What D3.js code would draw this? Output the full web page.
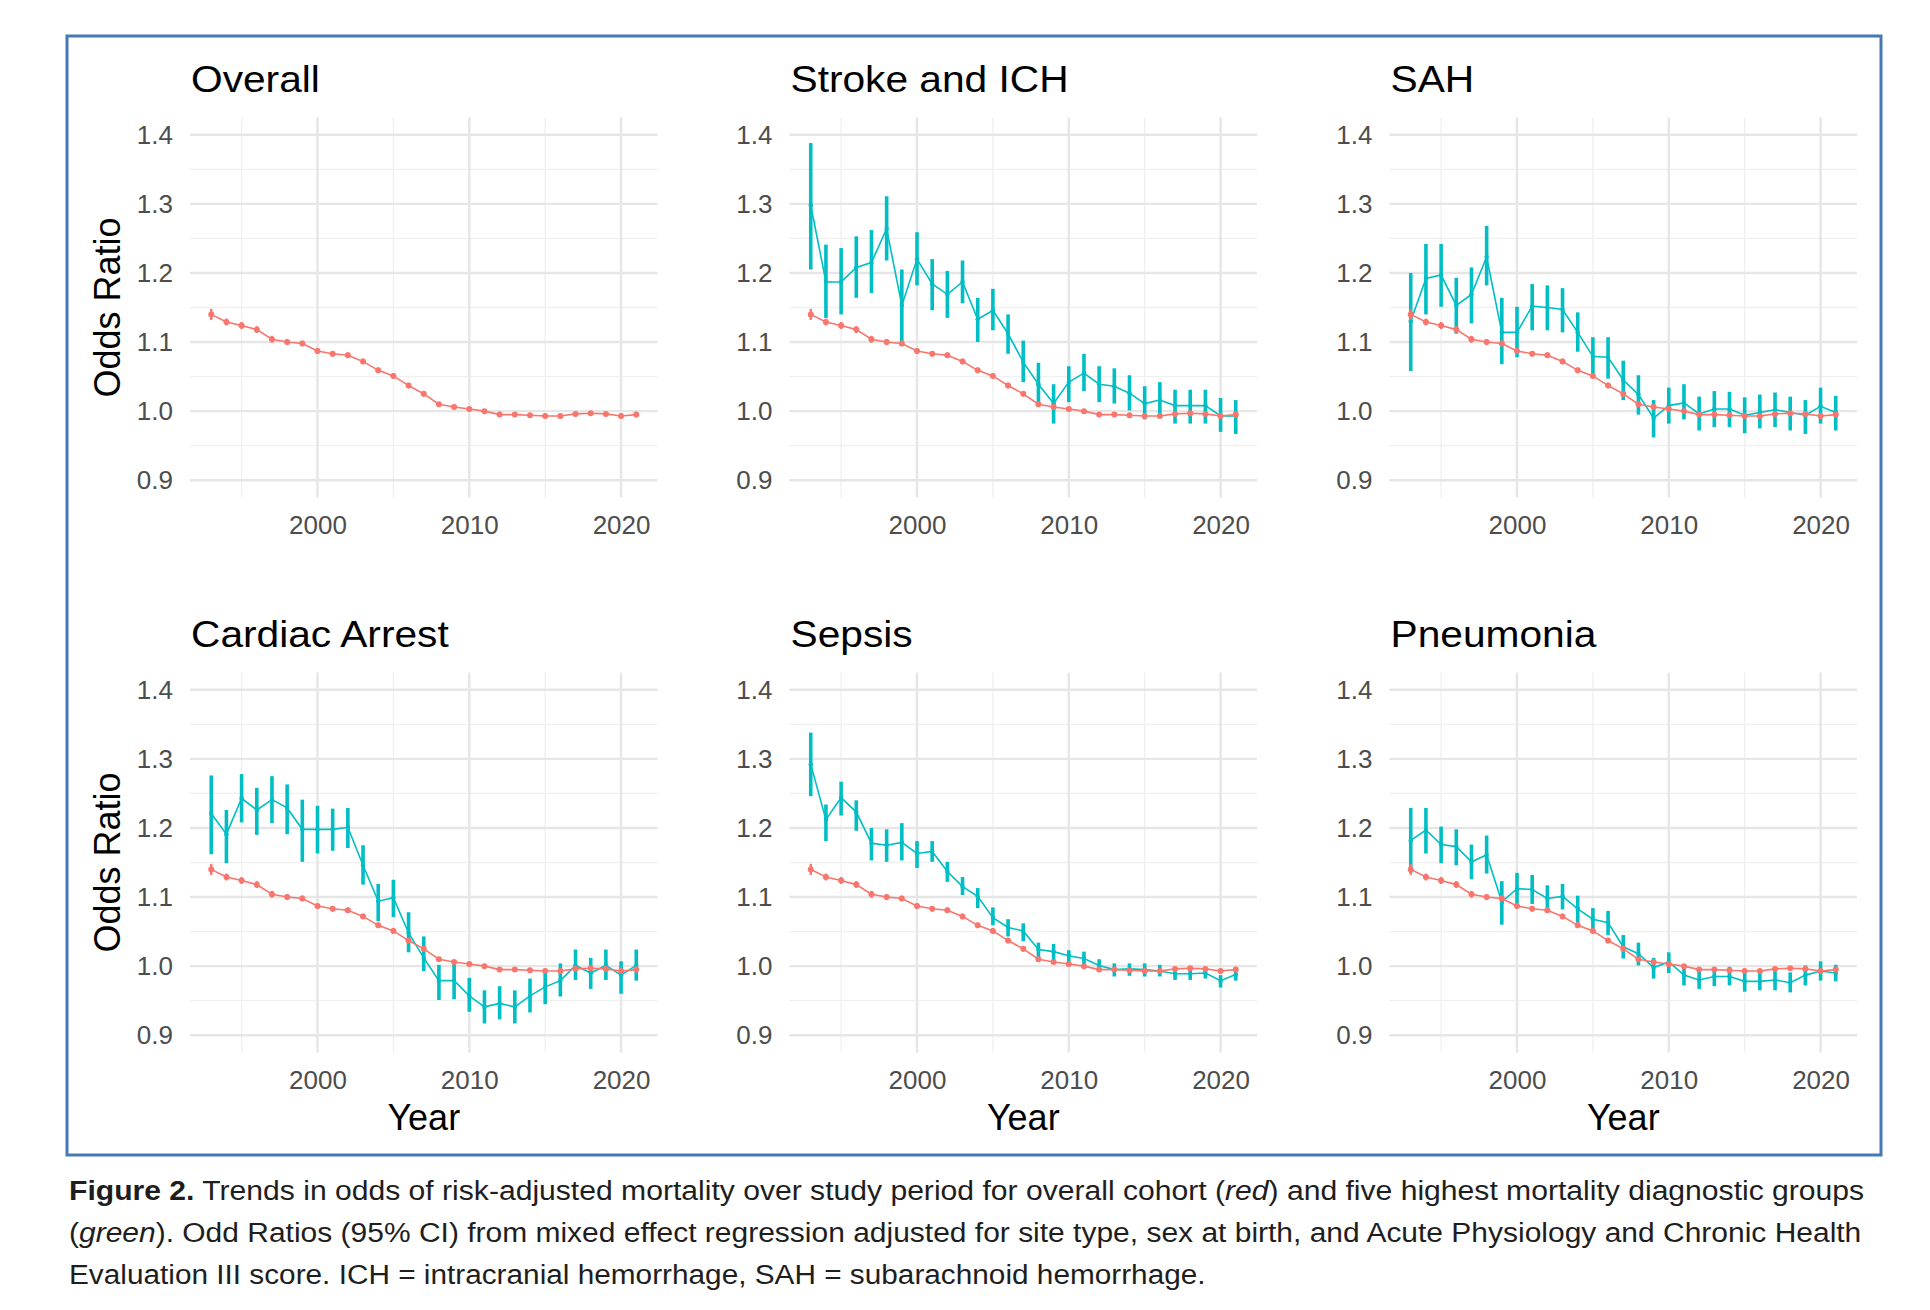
<!DOCTYPE html>
<html>
<head>
<meta charset="utf-8">
<script src="https://cdn.jsdelivr.net/npm/d3@7"></script>
<style>
  body { margin: 0; background: #fff; }
  text { font-family: "Liberation Sans", Arial, Helvetica, sans-serif; }
</style>
</head>
<body>
<script>
// years on the x axis
const years = [1993, 1994, 1995, 1996, 1997, 1998, 1999, 2000, 2001, 2002, 2003, 2004, 2005, 2006, 2007,
               2008, 2009, 2010, 2011, 2012, 2013, 2014, 2015, 2016, 2017, 2018, 2019, 2020, 2021];

// overall cohort (red) - estimate and CI half width
const overallEst = [1.140, 1.129, 1.124, 1.118, 1.104, 1.100, 1.098, 1.087, 1.083, 1.081, 1.072, 1.059, 1.051, 1.037, 1.025,
                    1.010, 1.006, 1.003, 1.000, 0.995, 0.995, 0.994, 0.993, 0.993, 0.996, 0.997, 0.996, 0.993, 0.995];
const overallErr = [0.008, 0.005, 0.005, 0.005, 0.005, 0.004, 0.004, 0.004, 0.004, 0.004, 0.004, 0.004, 0.004, 0.004, 0.004,
                    0.003, 0.003, 0.003, 0.003, 0.003, 0.003, 0.003, 0.003, 0.003, 0.003, 0.003, 0.003, 0.003, 0.004];

// Stroke and ICH
const strokeEst = [1.298, 1.187, 1.187, 1.208, 1.215, 1.264, 1.153, 1.220, 1.184, 1.169, 1.187, 1.133, 1.146, 1.112, 1.071,
                   1.039, 1.011, 1.042, 1.055, 1.039, 1.036, 1.026, 1.011, 1.016, 1.008, 1.008, 1.008, 0.993, 0.993];
const strokeHi  = [1.388, 1.241, 1.236, 1.253, 1.262, 1.311, 1.205, 1.259, 1.220, 1.203, 1.218, 1.164, 1.177, 1.140, 1.102,
                   1.070, 1.039, 1.065, 1.083, 1.065, 1.062, 1.052, 1.036, 1.042, 1.031, 1.031, 1.031, 1.019, 1.016];
const strokeLo  = [1.205, 1.135, 1.140, 1.164, 1.171, 1.218, 1.099, 1.182, 1.146, 1.135, 1.156, 1.100, 1.117, 1.083, 1.042,
                   1.011, 0.982, 1.013, 1.029, 1.013, 1.011, 1.001, 0.988, 0.990, 0.982, 0.982, 0.982, 0.970, 0.967];

// SAH
const sahEst = [1.130, 1.192, 1.197, 1.153, 1.169, 1.223, 1.114, 1.114, 1.152, 1.150, 1.147, 1.114, 1.079, 1.078, 1.045,
                1.024, 0.990, 1.008, 1.012, 0.996, 1.003, 1.003, 0.994, 0.998, 1.002, 0.998, 0.994, 1.007, 0.998];
const sahHi  = [1.200, 1.242, 1.242, 1.193, 1.208, 1.268, 1.164, 1.151, 1.184, 1.182, 1.178, 1.143, 1.107, 1.107, 1.073,
                1.052, 1.016, 1.034, 1.039, 1.021, 1.029, 1.028, 1.020, 1.024, 1.027, 1.021, 1.016, 1.034, 1.022];
const sahLo  = [1.058, 1.140, 1.151, 1.112, 1.127, 1.182, 1.068, 1.078, 1.117, 1.117, 1.114, 1.086, 1.052, 1.047, 1.016,
                0.995, 0.962, 0.982, 0.988, 0.972, 0.977, 0.977, 0.968, 0.975, 0.977, 0.972, 0.967, 0.982, 0.972];

// Cardiac Arrest
const cardiacEst = [1.221, 1.191, 1.243, 1.226, 1.241, 1.229, 1.198, 1.198, 1.198, 1.201, 1.146, 1.094, 1.099, 1.048, 1.012,
                    0.979, 0.979, 0.957, 0.941, 0.946, 0.941, 0.957, 0.970, 0.979, 1.001, 0.990, 1.001, 0.987, 1.001];
const cardiacHi  = [1.276, 1.226, 1.278, 1.258, 1.275, 1.263, 1.241, 1.232, 1.228, 1.229, 1.175, 1.119, 1.125, 1.078, 1.043,
                    1.002, 1.004, 0.983, 0.965, 0.971, 0.965, 0.982, 0.993, 1.004, 1.024, 1.012, 1.024, 1.007, 1.024];
const cardiacLo  = [1.162, 1.149, 1.208, 1.190, 1.207, 1.191, 1.151, 1.163, 1.167, 1.171, 1.118, 1.065, 1.071, 1.020, 0.993,
                    0.951, 0.952, 0.934, 0.917, 0.923, 0.917, 0.933, 0.945, 0.956, 0.980, 0.967, 0.980, 0.960, 0.979];

// Sepsis
const sepsisEst = [1.292, 1.212, 1.244, 1.223, 1.178, 1.175, 1.179, 1.163, 1.166, 1.137, 1.115, 1.101, 1.070, 1.056, 1.051,
                   1.024, 1.021, 1.015, 1.011, 1.001, 0.995, 0.996, 0.995, 0.993, 0.989, 0.989, 0.990, 0.979, 0.988];
const sepsisHi  = [1.338, 1.234, 1.267, 1.240, 1.200, 1.198, 1.207, 1.181, 1.181, 1.151, 1.129, 1.113, 1.085, 1.068, 1.062,
                   1.034, 1.032, 1.023, 1.021, 1.010, 1.004, 1.004, 1.004, 1.002, 0.999, 0.999, 0.999, 0.987, 0.996];
const sepsisLo  = [1.246, 1.181, 1.218, 1.196, 1.153, 1.151, 1.153, 1.142, 1.151, 1.122, 1.103, 1.084, 1.059, 1.043, 1.036,
                   1.012, 1.009, 1.004, 1.001, 0.993, 0.985, 0.986, 0.985, 0.985, 0.980, 0.980, 0.982, 0.969, 0.979];

// Pneumonia
const pneuEst = [1.182, 1.197, 1.176, 1.173, 1.151, 1.161, 1.093, 1.112, 1.111, 1.098, 1.101, 1.083, 1.068, 1.063, 1.028,
                 1.018, 0.998, 1.006, 0.987, 0.980, 0.985, 0.985, 0.978, 0.978, 0.980, 0.976, 0.987, 0.993, 0.990];
const pneuHi  = [1.229, 1.229, 1.202, 1.198, 1.176, 1.189, 1.123, 1.135, 1.132, 1.117, 1.119, 1.102, 1.084, 1.080, 1.045,
                 1.034, 1.012, 1.020, 1.001, 0.995, 0.997, 0.999, 0.993, 0.993, 0.996, 0.991, 1.001, 1.007, 1.002];
const pneuLo  = [1.135, 1.163, 1.149, 1.146, 1.126, 1.134, 1.060, 1.087, 1.090, 1.079, 1.082, 1.063, 1.050, 1.045, 1.011,
                 1.001, 0.982, 0.990, 0.972, 0.967, 0.971, 0.972, 0.963, 0.965, 0.965, 0.962, 0.972, 0.979, 0.978];

const yTicks = [0.9, 1.0, 1.1, 1.2, 1.3, 1.4];
const xTicks = [2000, 2010, 2020];

const panels = [
  { title: "Overall",        est: null,       hi: null,      lo: null },
  { title: "Stroke and ICH", est: strokeEst,  hi: strokeHi,  lo: strokeLo },
  { title: "SAH",            est: sahEst,     hi: sahHi,     lo: sahLo },
  { title: "Cardiac Arrest", est: cardiacEst, hi: cardiacHi, lo: cardiacLo },
  { title: "Sepsis",         est: sepsisEst,  hi: sepsisHi,  lo: sepsisLo },
  { title: "Pneumonia",      est: pneuEst,    hi: pneuHi,    lo: pneuLo }
];

const RED = "#F8766D", GREEN = "#00BFC4";
const W = 467.5, H = 380;
const lefts = [190, 789.5, 1389.5];
const tops = [117.5, 672.5];

const svg = d3.select("body").append("svg")
    .attr("width", 1930)
    .attr("height", 1310);

svg.append("rect")
    .attr("x", 67).attr("y", 36)
    .attr("width", 1814).attr("height", 1119)
    .attr("fill", "none")
    .attr("stroke", "#4479B3")
    .attr("stroke-width", 3);

const overall = years.map((yr, i) => ({ year: yr, v: overallEst[i], lo: overallEst[i] - overallErr[i], hi: overallEst[i] + overallErr[i] }));

panels.forEach((p, k) => {
    const col = k % 3, row = Math.floor(k / 3);
    const left = lefts[col], top = tops[row];

    const x = d3.scaleLinear().domain([1991.6, 2022.4]).range([left, left + W]);
    const y = d3.scaleLinear().domain([0.875, 1.425]).range([top + H, top]);

    const g = svg.append("g");

    // minor grid
    const yMinor = y.ticks(11).filter(t => !yTicks.some(m => Math.abs(m - t) < 1e-6));
    const xMinor = x.ticks(6).filter(t => !xTicks.includes(t));
    g.append("g").selectAll("line").data(yMinor).join("line")
        .attr("x1", left).attr("x2", left + W)
        .attr("y1", d => y(d)).attr("y2", d => y(d))
        .attr("stroke", "#F0F0F0").attr("stroke-width", 1.3);
    g.append("g").selectAll("line").data(xMinor).join("line")
        .attr("x1", d => x(d)).attr("x2", d => x(d))
        .attr("y1", top).attr("y2", top + H)
        .attr("stroke", "#F0F0F0").attr("stroke-width", 1.3);
    // major grid
    g.append("g").selectAll("line").data(yTicks).join("line")
        .attr("x1", left).attr("x2", left + W)
        .attr("y1", d => y(d)).attr("y2", d => y(d))
        .attr("stroke", "#E6E6E6").attr("stroke-width", 2.4);
    g.append("g").selectAll("line").data(xTicks).join("line")
        .attr("x1", d => x(d)).attr("x2", d => x(d))
        .attr("y1", top).attr("y2", top + H)
        .attr("stroke", "#E6E6E6").attr("stroke-width", 2.4);

    // axes
    const ya = g.append("g")
        .attr("transform", `translate(${left},0)`)
        .call(d3.axisLeft(y).tickValues(yTicks).tickFormat(d3.format(".1f")).tickSize(0).tickPadding(17));
    const xa = g.append("g")
        .attr("transform", `translate(0,${top + H})`)
        .call(d3.axisBottom(x).tickValues(xTicks).tickFormat(d3.format("d")).tickSize(0).tickPadding(18));
    [ya, xa].forEach(a => {
        a.select(".domain").remove();
        a.selectAll("text")
            .attr("fill", "#4D4D4D")
            .style("font-size", "26px")
            .style("font-family", "'Liberation Sans', Arial, sans-serif");
    });

    // title
    g.append("text")
        .attr("transform", `translate(${left + 1},${top - 26}) scale(1.1,1)`)
        .attr("fill", "#000")
        .style("font-size", "37px")
        .text(p.title);

    if (col === 0) {
        g.append("text")
            .attr("transform", `translate(${left - 70},${top + H / 2}) rotate(-90)`)
            .attr("text-anchor", "middle")
            .attr("fill", "#000")
            .style("font-size", "36px")
            .text("Odds Ratio");
    }
    if (row === 1) {
        g.append("text")
            .attr("x", left + W / 2)
            .attr("y", top + H + 77)
            .attr("text-anchor", "middle")
            .attr("fill", "#000")
            .style("font-size", "36px")
            .text("Year");
    }

    const line = d3.line().x(d => x(d.year)).y(d => y(d.v));

    if (p.est) {
        const grp = years.map((yr, i) => ({ year: yr, v: p.est[i], lo: p.lo[i], hi: p.hi[i] }));
        g.append("path").datum(grp)
            .attr("d", line)
            .attr("fill", "none")
            .attr("stroke", GREEN)
            .attr("stroke-width", 1.6);
        g.append("g").selectAll("line").data(grp).join("line")
            .attr("x1", d => x(d.year)).attr("x2", d => x(d.year))
            .attr("y1", d => y(d.lo)).attr("y2", d => y(d.hi))
            .attr("stroke", GREEN)
            .attr("stroke-width", 3.6);
        g.append("g").selectAll("circle").data(grp).join("circle")
            .attr("cx", d => x(d.year)).attr("cy", d => y(d.v))
            .attr("r", 2.2)
            .attr("fill", GREEN);
    }

    // overall cohort (red)
    g.append("path").datum(overall)
        .attr("d", line)
        .attr("fill", "none")
        .attr("stroke", RED)
        .attr("stroke-width", 1.6);
    g.append("g").selectAll("line").data(overall).join("line")
        .attr("x1", d => x(d.year)).attr("x2", d => x(d.year))
        .attr("y1", d => y(d.lo)).attr("y2", d => y(d.hi))
        .attr("stroke", RED)
        .attr("stroke-width", 2.4);
    g.append("g").selectAll("circle").data(overall).join("circle")
        .attr("cx", d => x(d.year)).attr("cy", d => y(d.v))
        .attr("r", 3)
        .attr("fill", RED);
});

// caption
const capLines = [
    { y: 1199.5, w: 1796, parts: [["Figure 2.", "bold"], [" Trends in odds of risk-adjusted mortality over study period for overall cohort (", ""], ["red", "italic"], [") and five highest mortality diagnostic groups", ""]] },
    { y: 1241.7, w: 1793, parts: [["(", ""], ["green", "italic"], ["). Odd Ratios (95% CI) from mixed effect regression adjusted for site type, sex at birth, and Acute Physiology and Chronic Health", ""]] },
    { y: 1284, w: 1137, parts: [["Evaluation III score. ICH = intracranial hemorrhage, SAH = subarachnoid hemorrhage.", ""]] }
];

capLines.forEach(c => {
    const g = svg.append("g");
    const t = g.append("text")
        .attr("fill", "#1E1E1E")
        .style("font-size", "28px");
    c.parts.forEach(([s, st]) => {
        const ts = t.append("tspan").text(s);
        if (st === "bold") ts.attr("font-weight", "bold");
        if (st === "italic") ts.attr("font-style", "italic");
    });
    const len = t.node().getComputedTextLength();
    g.attr("transform", `translate(69,${c.y}) scale(${c.w / len},1)`);
});
</script>
</body>
</html>
